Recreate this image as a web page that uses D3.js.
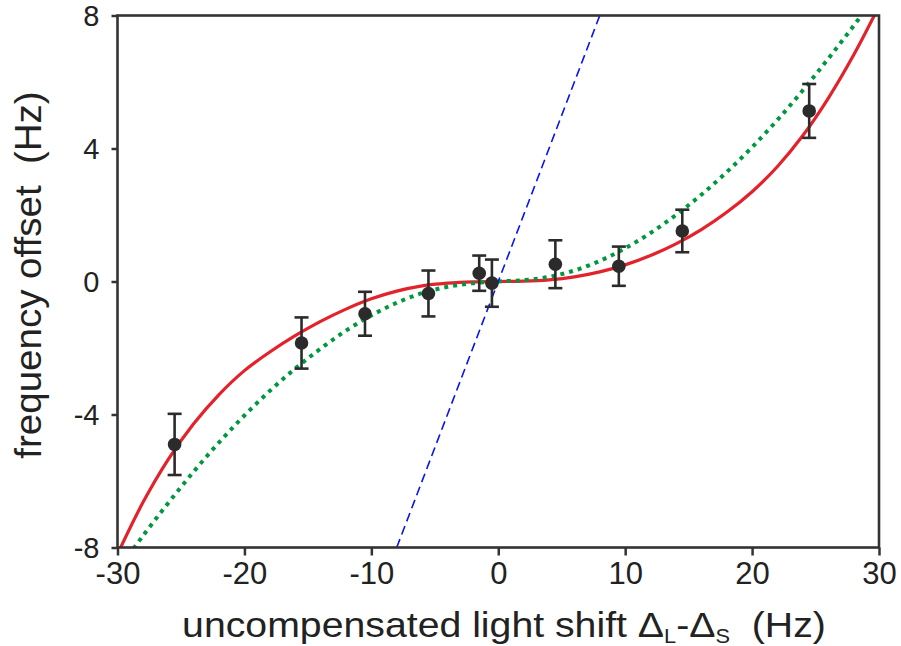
<!DOCTYPE html>
<html>
<head>
<meta charset="utf-8">
<script src="https://cdn.jsdelivr.net/npm/d3@7"></script>
<style>
  body { margin: 0; background: #fff; }
  svg text { font-family: "Liberation Sans", Arial, Helvetica, sans-serif; fill: #222; }
</style>
</head>
<body>
<svg id="chart" width="901" height="646"></svg>
<script>
// Measured points: uncompensated light shift (Hz) vs frequency offset (Hz)
const shiftHz   = [-25.5, -15.5, -10.5, -5.5, -1.5, -0.5, 4.5, 9.5, 14.5, 24.5];
const offsetHz  = [-4.90, -1.85, -0.97, -0.36, 0.25, -0.05, 0.52, 0.46, 1.52, 5.13];
const offsetErr = [0.92, 0.77, 0.66, 0.69, 0.53, 0.71, 0.72, 0.59, 0.64, 0.81];

// Model curves sampled along the light-shift axis
const curveX = [-30, -28, -26, -24, -22, -20, -18, -16, -14, -12, -10, -8, -6, -4, -2,
                0, 2, 4, 6, 8, 10, 12, 14, 16, 18, 20, 22, 24, 26, 28, 30];
const redModel = [-8.20, -6.65, -5.35, -4.28, -3.40, -2.68, -2.12, -1.63, -1.20, -0.83, -0.52, -0.29, -0.13, -0.05, -0.01,
                  0, 0.01, 0.05, 0.14, 0.29, 0.50, 0.78, 1.13, 1.56, 2.08, 2.70, 3.46, 4.39, 5.51, 6.81, 8.28];
const greenModel = [-8.69, -7.65, -6.66, -5.72, -4.84, -4.03, -3.29, -2.62, -2.02, -1.48, -1.02, -0.64, -0.35, -0.16, -0.05,
                    0, 0.04, 0.14, 0.33, 0.62, 1.00, 1.46, 2.00, 2.61, 3.29, 4.04, 4.86, 5.75, 6.70, 7.69, 8.72];

// Uncompensated reference: offset equals the light shift
const blueX = [-8, 8];
const blueY = [-8, 8];

const xTicks = [-30, -20, -10, 0, 10, 20, 30];
const yTicks = [-8, -4, 0, 4, 8];

const svg = d3.select("#chart");
const plot = { left: 117.5, right: 879, top: 15.5, bottom: 547.5 };

const x = d3.scaleLinear().domain([-30, 30]).range([plot.left, plot.right]);
const y = d3.scaleLinear().domain([-8, 8]).range([plot.bottom, plot.top]);

svg.append("defs").append("clipPath").attr("id", "plotClip")
  .append("rect")
  .attr("x", plot.left).attr("y", plot.top)
  .attr("width", plot.right - plot.left).attr("height", plot.bottom - plot.top);

const lineGen = d3.line().x(d => x(d[0])).y(d => y(d[1])).curve(d3.curveCatmullRom.alpha(0.5));

const curves = svg.append("g").attr("clip-path", "url(#plotClip)");

// red model curve
curves.append("path")
  .datum(curveX.map((v, i) => [v, redModel[i]]))
  .attr("d", lineGen)
  .attr("fill", "none")
  .attr("stroke", "#e3222b")
  .attr("stroke-width", 3.2);

// green dotted model curve
curves.append("path")
  .datum(curveX.map((v, i) => [v, greenModel[i]]))
  .attr("d", lineGen)
  .attr("fill", "none")
  .attr("stroke", "#00983f")
  .attr("stroke-width", 4)
  .attr("stroke-dasharray", "4 5");

// data with error bars
const pts = svg.append("g");
const data = shiftHz.map((v, i) => ({ x: v, y: offsetHz[i], e: offsetErr[i] }));
const capW = 7;
const eb = pts.selectAll("g.eb").data(data).join("g").attr("class", "eb")
  .attr("stroke", "#2b2b2b").attr("stroke-width", 2.6);
eb.append("line")
  .attr("x1", d => x(d.x)).attr("x2", d => x(d.x))
  .attr("y1", d => y(d.y + d.e)).attr("y2", d => y(d.y - d.e));
eb.append("line")
  .attr("x1", d => x(d.x) - capW).attr("x2", d => x(d.x) + capW)
  .attr("y1", d => y(d.y + d.e)).attr("y2", d => y(d.y + d.e));
eb.append("line")
  .attr("x1", d => x(d.x) - capW).attr("x2", d => x(d.x) + capW)
  .attr("y1", d => y(d.y - d.e)).attr("y2", d => y(d.y - d.e));
pts.selectAll("circle").data(data).join("circle")
  .attr("cx", d => x(d.x)).attr("cy", d => y(d.y))
  .attr("r", 6.8).attr("fill", "#2b2b2b");

// blue dashed reference line
curves.append("path")
  .datum(blueX.map((v, i) => [v, blueY[i]]))
  .attr("d", d3.line().x(d => x(d[0])).y(d => y(d[1])))
  .attr("fill", "none")
  .attr("stroke", "#0a14f0")
  .attr("stroke-width", 1.6)
  .attr("stroke-dasharray", "9 5");

// axes
const xAxis = d3.axisBottom(x).tickValues(xTicks).tickFormat(d => String(d))
  .tickSize(8).tickPadding(6).tickSizeOuter(0);
const yAxis = d3.axisLeft(y).tickValues(yTicks).tickFormat(d => String(d))
  .tickSize(6).tickPadding(12).tickSizeOuter(0);

const gx = svg.append("g").attr("transform", `translate(0,${plot.bottom})`).call(xAxis);
const gy = svg.append("g").attr("transform", `translate(${plot.left},0)`).call(yAxis);
[gx, gy].forEach(g => {
  g.select(".domain").remove();
  g.selectAll(".tick line").attr("stroke", "#333").attr("stroke-width", 2.5);
  g.selectAll(".tick text").attr("fill", "#222");
});
gx.selectAll(".tick text").attr("font-size", 31);
gy.selectAll(".tick text").attr("font-size", 29).attr("dy", "0.36em");

// plot frame
svg.append("rect")
  .attr("x", plot.left).attr("y", plot.top)
  .attr("width", plot.right - plot.left).attr("height", plot.bottom - plot.top)
  .attr("fill", "none").attr("stroke", "#333").attr("stroke-width", 2.6);

// axis titles (set slightly wide, as in the original typeface)
const xt = svg.append("text")
  .attr("transform", "translate(504,637) scale(1.09,1)")
  .attr("text-anchor", "middle")
  .attr("font-size", 36);
xt.append("tspan").text("uncompensated light shift \u0394");
xt.append("tspan").attr("font-size", 20).attr("dy", 6).text("L");
xt.append("tspan").attr("dy", -6).text("-\u0394");
xt.append("tspan").attr("font-size", 20).attr("dy", 6).text("S");
xt.append("tspan").attr("dy", -6).text("\u00a0\u00a0(Hz)");

svg.append("text")
  .attr("transform", "translate(41,275) rotate(-90) scale(1.07,1)")
  .attr("text-anchor", "middle")
  .attr("font-size", 36)
  .text("frequency offset\u00a0\u00a0(Hz)");
</script>
</body>
</html>
